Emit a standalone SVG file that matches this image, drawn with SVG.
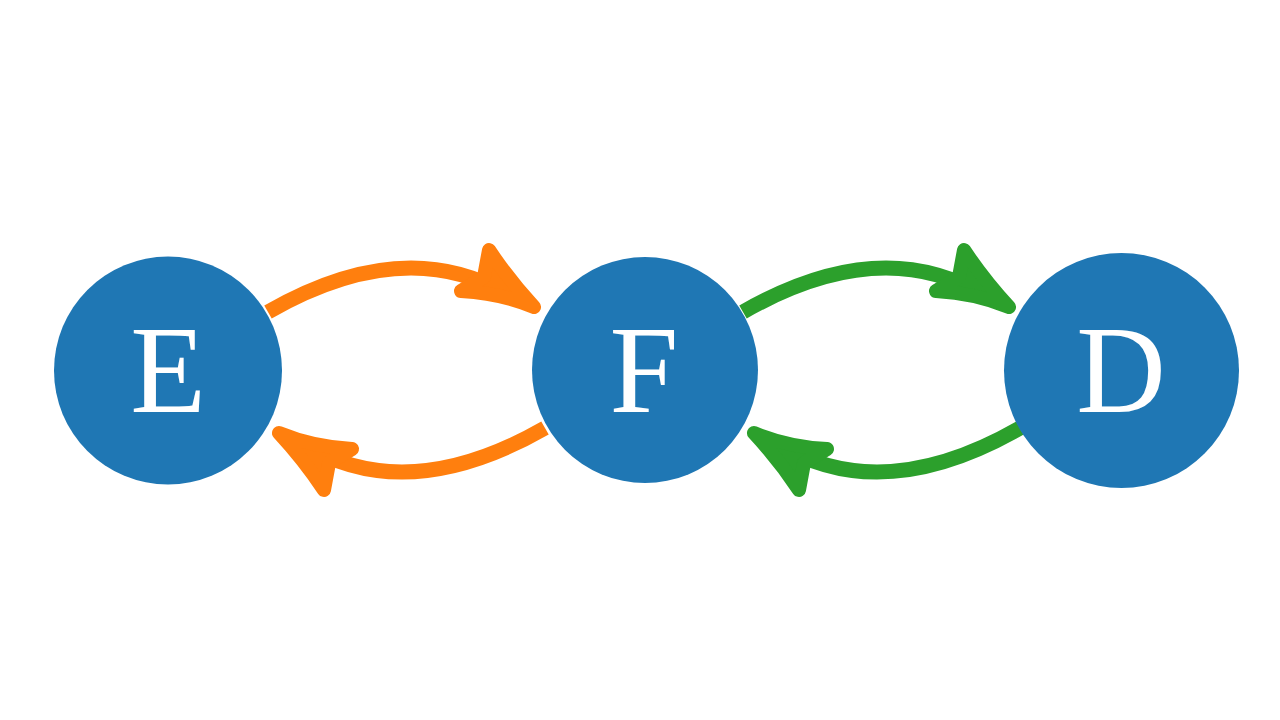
<svg xmlns="http://www.w3.org/2000/svg" width="1280" height="720" viewBox="0 0 1280 720">
<style>
.node{fill:#1f77b4}
.lbl{font-family:"Liberation Serif","DejaVu Serif",serif;font-size:124px;fill:#ffffff;text-anchor:middle}
.shaft{fill:none;stroke-width:15;stroke-linecap:butt}
.head{stroke-width:14;stroke-linejoin:round}
.or{stroke:#ff7f0e}
.orf{fill:#ff7f0e}
.gr{stroke:#2ca02c}
.grf{fill:#2ca02c}
</style>
<defs>
<g id="arrowTopO">
<path class="shaft or" d="M268,312 Q406,233 510,296"/>
<path class="head or orf" d="M534,307 Q509,280 489,250 L484,277 L461,291 Q500,293 534,307 Z"/>
</g>
<g id="arrowTopG">
<path class="shaft gr" d="M268,312 Q406,233 510,296"/>
<path class="head gr grf" d="M534,307 Q509,280 489,250 L484,277 L461,291 Q500,293 534,307 Z"/>
</g>
</defs>
<rect width="1280" height="720" fill="#ffffff"/>
<g id="connectors">
<g id="E-F"><use href="#arrowTopO"/></g>
<g id="F-E"><use href="#arrowTopO" transform="rotate(180 406.5 370)"/></g>
<g id="F-D"><use href="#arrowTopG" transform="translate(475 0)"/></g>
<g id="D-F"><use href="#arrowTopG" transform="translate(475 0) rotate(180 406.5 370)"/></g>
</g>
<g id="node-E"><circle class="node" cx="168" cy="370.5" r="114"/><text class="lbl" x="168" y="412">E</text></g>
<g id="node-F"><circle class="node" cx="645" cy="370" r="113"/><text class="lbl" x="644" y="412">F</text></g>
<g id="node-D"><circle class="node" cx="1121.5" cy="370.5" r="117.5"/><text class="lbl" x="1121" y="412">D</text></g>
</svg>
